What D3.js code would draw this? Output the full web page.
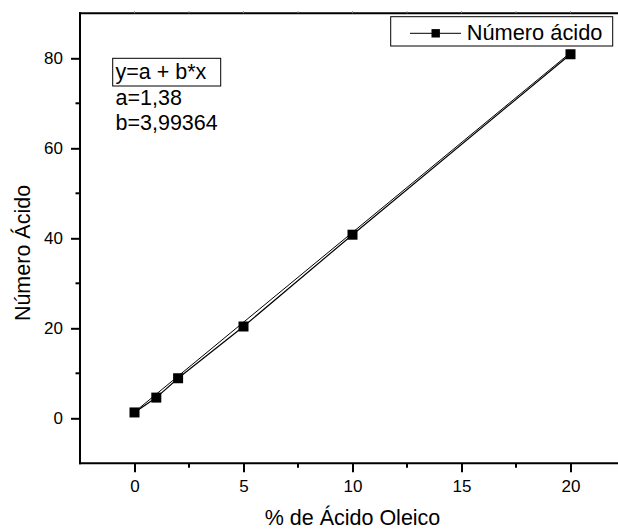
<!DOCTYPE html>
<html>
<head>
<meta charset="utf-8">
<script src="https://cdn.jsdelivr.net/npm/d3@7/dist/d3.min.js"></script>
<style>
html,body{margin:0;padding:0;background:#fff;}
svg{display:block;}
text{font-family:"Liberation Sans",Arial,sans-serif;fill:#000;}
</style>
</head>
<body>
<svg id="chart" width="618" height="529"></svg>
<script>
// Data
const xValues = [0, 1, 2, 5, 10, 20];
const yValues = [1.3, 4.6, 8.9, 20.4, 40.8, 80.9];
const fitA = 1.38;
const fitB = 3.99364;
const xTicks = [0, 5, 10, 15, 20];
const xMinorTicks = [2.5, 7.5, 12.5, 17.5];
const yTicks = [0, 20, 40, 60, 80];
const yMinorTicks = [10, 30, 50, 70];
const seriesName = "Número ácido";
const xTitle = "% de Ácido Oleico";
const yTitle = "Número Ácido";
const annotationLines = ["y=a + b*x", "a=1,38", "b=3,99364"];

(function () {
const svg = d3.select("#chart");
const pLeft = 80, pRight = 625, pTop = 13.3, pBottom = 463.3;
const x = d3.scaleLinear().domain([-2.5, 22.5]).range([pLeft, pRight]);
const y = d3.scaleLinear().domain([-10, 90]).range([pBottom, pTop]);

svg.append("rect").attr("width", 618).attr("height", 529).attr("fill", "#fff");

// Bottom axis
const gx = svg.append("g").attr("transform", `translate(0,${pBottom})`);
gx.call(d3.axisBottom(x).tickValues(xTicks).tickSize(9).tickPadding(8).tickFormat(d3.format("d")))
  .call(g => g.select(".domain").remove());
gx.selectAll(".tick line").attr("stroke", "#000").attr("stroke-width", 2);
gx.selectAll(".tick text").attr("font-size", 17).attr("font-family", "Liberation Sans, Arial, sans-serif");
gx.append("g").selectAll("line").data(xMinorTicks).join("line")
  .attr("x1", d => x(d)).attr("x2", d => x(d)).attr("y1", 0).attr("y2", 4.5)
  .attr("stroke", "#000").attr("stroke-width", 2);
gx.append("line").attr("x1", pLeft - 1).attr("x2", 618).attr("y1", 0).attr("y2", 0)
  .attr("stroke", "#000").attr("stroke-width", 2);

// Left axis
const gy = svg.append("g").attr("transform", `translate(${pLeft},0)`);
gy.call(d3.axisLeft(y).tickValues(yTicks).tickSize(9).tickPadding(8).tickFormat(d3.format("d")))
  .call(g => g.select(".domain").remove());
gy.selectAll(".tick line").attr("stroke", "#000").attr("stroke-width", 2);
gy.selectAll(".tick text").attr("font-size", 17).attr("font-family", "Liberation Sans, Arial, sans-serif");
gy.append("g").selectAll("line").data(yMinorTicks).join("line")
  .attr("x1", 0).attr("x2", -4.5).attr("y1", d => y(d)).attr("y2", d => y(d))
  .attr("stroke", "#000").attr("stroke-width", 2);
gy.append("line").attr("x1", 0).attr("x2", 0).attr("y1", pTop - 1).attr("y2", pBottom + 1)
  .attr("stroke", "#000").attr("stroke-width", 2);

// Top frame line with tiny ticks
svg.append("line").attr("x1", pLeft - 1).attr("x2", 618).attr("y1", pTop).attr("y2", pTop)
  .attr("stroke", "#000").attr("stroke-width", 2);
svg.append("g").selectAll("line").data(xTicks.concat(xMinorTicks)).join("line")
  .attr("x1", d => x(d)).attr("x2", d => x(d)).attr("y1", pTop).attr("y2", pTop - 2)
  .attr("stroke", "#777").attr("stroke-width", 1);

// Fit line
svg.append("line")
  .attr("x1", x(xValues[0])).attr("y1", y(fitA + fitB * xValues[0]))
  .attr("x2", x(xValues[xValues.length - 1])).attr("y2", y(fitA + fitB * xValues[xValues.length - 1]))
  .attr("stroke", "#000").attr("stroke-width", 1);

// Data line
const pts = xValues.map((v, i) => [v, yValues[i]]);
svg.append("path").datum(pts)
  .attr("d", d3.line().x(d => x(d[0])).y(d => y(d[1])))
  .attr("fill", "none").attr("stroke", "#000").attr("stroke-width", 1.2);

// Markers
const ms = 10;
svg.append("g").selectAll("rect").data(pts).join("rect")
  .attr("x", d => x(d[0]) - ms / 2).attr("y", d => y(d[1]) - ms / 2)
  .attr("width", ms).attr("height", ms).attr("fill", "#000");

// Axis titles
svg.append("text").attr("x", (pLeft + pRight) / 2).attr("y", 524.5)
  .attr("text-anchor", "middle").attr("font-size", 21.5).text(xTitle);
svg.append("text").attr("transform", "translate(30,253) rotate(-90)")
  .attr("text-anchor", "middle").attr("font-size", 21.5).text(yTitle);

// Legend
const lg = svg.append("g");
lg.append("rect").attr("x", 390.7).attr("y", 16.7).attr("width", 222).attr("height", 29.3)
  .attr("fill", "#fff").attr("stroke", "#000").attr("stroke-width", 1);
lg.append("line").attr("x1", 410).attr("x2", 461).attr("y1", 33.3).attr("y2", 33.3)
  .attr("stroke", "#000").attr("stroke-width", 1);
lg.append("rect").attr("x", 435.7 - 4.2).attr("y", 33.3 - 4.2).attr("width", 8.4).attr("height", 8.4).attr("fill", "#000");
lg.append("text").attr("x", 466.7).attr("y", 39.8).attr("font-size", 21.8).text(seriesName);

// Annotation
const an = svg.append("g");
an.append("rect").attr("x", 112.7).attr("y", 58.3).attr("width", 108).attr("height", 27.7)
  .attr("fill", "none").attr("stroke", "#000").attr("stroke-width", 1);
an.selectAll("text").data(annotationLines).join("text")
  .attr("x", 115.5).attr("y", (d, i) => 79.3 + i * 25.4)
  .attr("font-size", 21.5).text(d => d);
})();
</script>
</body>
</html>
